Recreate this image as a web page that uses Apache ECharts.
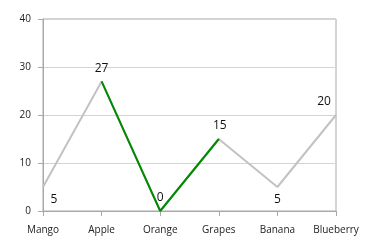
<!DOCTYPE html>
<html><head><meta charset="utf-8">
<script src="https://cdn.jsdelivr.net/npm/echarts@6/dist/echarts.min.js"></script>
<style>html,body{margin:0;padding:0;background:#fff}#c{width:372px;height:244px}</style>
</head><body><div id="c"></div>
<script>
const categories = ['Mango', 'Apple', 'Orange', 'Grapes', 'Banana', 'Blueberry'];
const values = [5, 27, 0, 15, 5, 20];
const highlighted = [null, 27, 0, 15, null, null];
const yTicks = [0, 10, 20, 30, 40];

const labelPos = ['bottom', 'top', 'top', 'top', 'bottom', 'top'];
const labelOff = [[11, 2], [0, -2], [0, -2], [1, -2], [0, 2], [-12, -2]];

const chart = echarts.init(document.getElementById('c'));
const FONT = 'Open Sans';
chart.setOption({
  animation: false,
  grid: { left: 43, right: 36, top: 19, bottom: 33, show: true, borderColor: '#a8a8a8', borderWidth: 1 },
  xAxis: {
    type: 'category', data: categories, boundaryGap: false,
    axisLine: { lineStyle: { color: '#a8a8a8' } },
    axisTick: { alignWithLabel: true, interval: 0, length: 5, lineStyle: { color: '#a8a8a8' } },
    axisLabel: { color: '#222', fontSize: 10, fontFamily: FONT, margin: 14, interval: 0 }
  },
  yAxis: {
    type: 'value', min: yTicks[0], max: yTicks[yTicks.length - 1], interval: 10,
    axisLine: { show: true, lineStyle: { color: '#a8a8a8' } },
    axisTick: { show: true, length: 5, lineStyle: { color: '#a8a8a8' } },
    splitLine: { lineStyle: { color: '#d4d4d4' } },
    axisLabel: { color: '#222', fontSize: 10, fontFamily: FONT, margin: 12 }
  },
  series: [
    {
      type: 'line', data: values.map((v, i) => ({
        value: v,
        label: { show: true, position: labelPos[i], offset: labelOff[i] }
      })),
      symbol: 'circle', symbolSize: 0,
      lineStyle: { color: '#c2c2c2', width: 2 },
      itemStyle: { color: '#c2c2c2' },
      label: { color: '#111', fontSize: 12, fontFamily: FONT, distance: 5 },
      z: 2
    },
    {
      type: 'line', data: highlighted,
      symbol: 'none', connectNulls: false,
      lineStyle: { color: '#008a00', width: 2 },
      z: 3
    }
  ]
});
</script></body></html>
